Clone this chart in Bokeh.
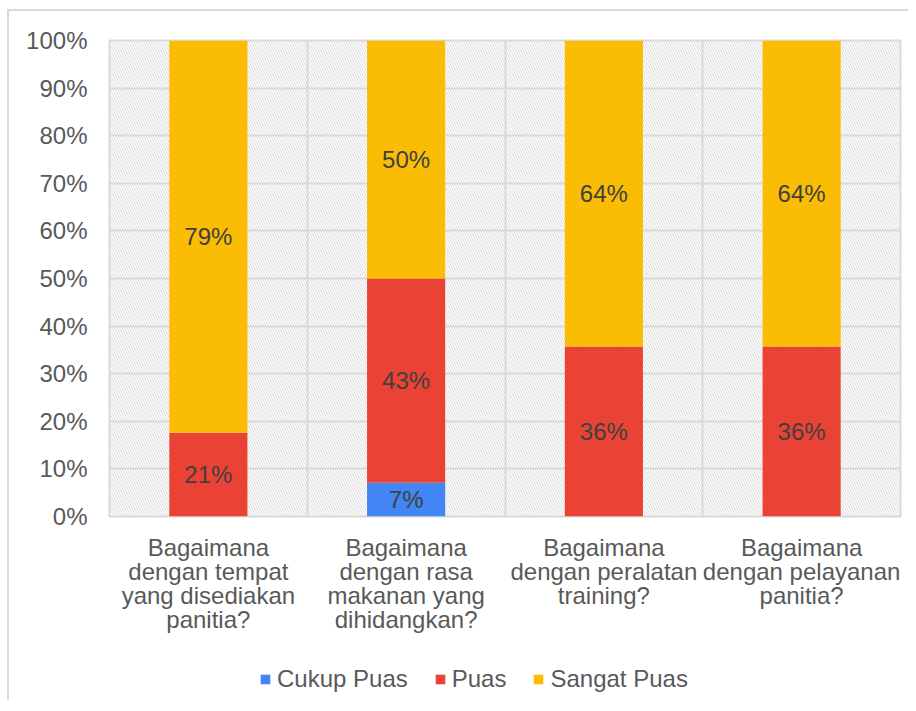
from bokeh.plotting import figure
from bokeh.layouts import column
from bokeh.models import (ColumnDataSource, FixedTicker, BoxAnnotation, Legend, LegendItem,
                          LabelSet, NumeralTickFormatter)
from bokeh.core.properties import value
from bokeh.embed import file_html
from bokeh.resources import INLINE

categories = [
    "Bagaimana\ndengan tempat\nyang disediakan\npanitia?",
    "Bagaimana\ndengan rasa\nmakanan yang\ndihidangkan?",
    "Bagaimana\ndengan peralatan\ntraining?",
    "Bagaimana\ndengan pelayanan\npanitia?",
]
series = ["Cukup Puas", "Puas", "Sangat Puas"]
cukup_puas = [0.0, 7.1, 0.0, 0.0]
puas = [17.6, 42.9, 35.7, 35.7]
sangat_puas = [82.4, 50.0, 64.3, 64.3]
cukup_labels = ["", "7%", "", ""]
puas_labels = ["21%", "43%", "36%", "36%"]
sangat_labels = ["79%", "50%", "64%", "64%"]
colors = ["#4285F4", "#EA4335", "#FBBC04"]
y_ticks = [0, 10, 20, 30, 40, 50, 60, 70, 80, 90, 100]

FONT = "Liberation Sans"
FS = "24px"
n = len(categories)
xs = [i + 0.5 for i in range(n)]

data = {"x": xs, "Cukup Puas": [v / 100 for v in cukup_puas],
        "Puas": [v / 100 for v in puas], "Sangat Puas": [v / 100 for v in sangat_puas]}
src = ColumnDataSource(data)

p = figure(width=899, height=629, x_range=(0, n), y_range=(0, 1),
           output_backend="svg", toolbar_location=None,
           min_border_left=100, min_border_right=8, min_border_top=29, min_border_bottom=124)

hatch = BoxAnnotation(fill_alpha=0, line_alpha=0, hatch_pattern="left_diagonal_line",
                      hatch_color="#dadada", hatch_scale=5, hatch_weight=1, level="image")
p.add_layout(hatch)

rs = p.vbar_stack(series, x="x", width=0.395, color=colors, line_color=None, source=src)

# data labels at segment centres
cum = [0.0] * n
for vals, labs in [(cukup_puas, cukup_labels), (puas, puas_labels), (sangat_puas, sangat_labels)]:
    mids = [(c + v / 2) / 100 for c, v in zip(cum, vals)]
    cum = [c + v for c, v in zip(cum, vals)]
    ls = ColumnDataSource({"x": xs, "y": mids, "t": labs})
    p.add_layout(LabelSet(x="x", y="y", text="t", source=ls, text_align="center",
                          text_baseline="middle", text_font=value(FONT), text_font_size=FS,
                          text_color="#404040"))

p.xaxis.ticker = FixedTicker(ticks=xs)
p.xaxis.major_label_overrides = {x: c for x, c in zip(xs, categories)}
p.yaxis.ticker = FixedTicker(ticks=[t / 100 for t in y_ticks])
p.yaxis.formatter = NumeralTickFormatter(format="0%")
for ax in (p.xaxis, p.yaxis):
    ax.axis_line_color = None
    ax.major_tick_line_color = None
    ax.minor_tick_line_color = None
    ax.major_label_text_font = FONT
    ax.major_label_text_font_size = FS
    ax.major_label_text_color = "#595959"
p.yaxis.major_label_standoff = 16
p.xaxis.major_label_standoff = 11
p.xaxis.major_label_text_line_height = 0.9

p.xgrid.ticker = FixedTicker(ticks=list(range(1, n)))
p.ygrid.ticker = FixedTicker(ticks=[t / 100 for t in y_ticks])
for g in (p.xgrid, p.ygrid):
    g.grid_line_color = "#d9d9d9"
    g.grid_line_width = 2
p.outline_line_color = "#d9d9d9"
p.outline_line_width = 2

# legend row: same stacked bars, drawn outside this row's visible range
p2 = figure(width=899, height=60, x_range=(0, n), y_range=(10, 11),
            output_backend="svg", toolbar_location=None,
            min_border=0, x_axis_type=None, y_axis_type=None)
p2.grid.visible = False
p2.outline_line_color = None
lr = p2.vbar_stack(series, x="x", width=0.395, color=colors, line_color=None, source=src)
legend = Legend(items=[LegendItem(label=s, renderers=[r]) for s, r in zip(series, lr)],
                orientation="horizontal", location=(150, 7),
                glyph_width=12, glyph_height=12, label_standoff=6, spacing=26,
                label_text_font=FONT, label_text_font_size=FS, label_text_color="#595959",
                padding=0, margin=0, border_line_color=None, background_fill_alpha=0)
p2.add_layout(legend)

layout = column(p, p2, spacing=0,
                styles={"border-top": "2px solid #d9d9d9", "border-left": "2px solid #d9d9d9",
                        "margin-left": "7px", "margin-top": "9px"})

open("out.html", "w").write(file_html(layout, INLINE))
